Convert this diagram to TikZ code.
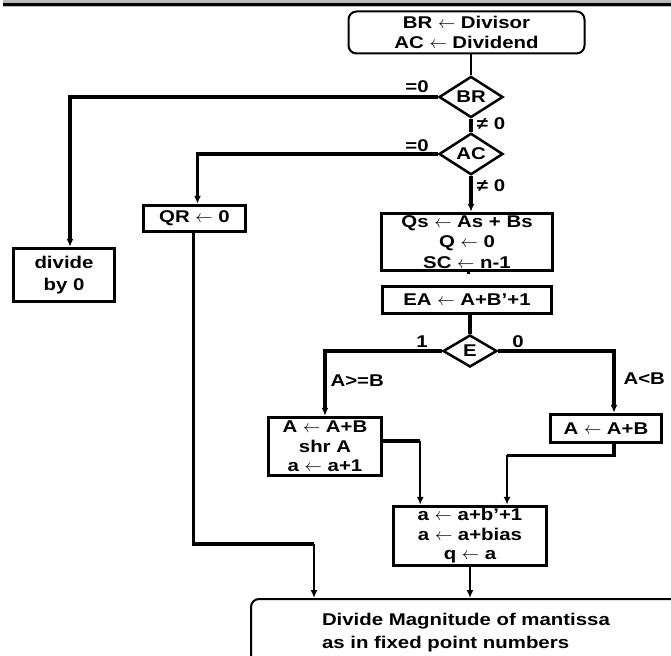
\documentclass[tikz,border=0pt]{standalone}
\usepackage{fontspec}
\setmainfont{Liberation Sans}[FakeStretch=1.2]
\usetikzlibrary{shapes.geometric,arrows.meta}
\newcommand{\getsto}{\ensuremath{\leftarrow}}
\tikzset{
  every node/.style={font=\bfseries\fontsize{17}{20.5}\selectfont},
  opbox/.style={draw,line width=3.5pt,rectangle,inner sep=0pt,align=center},
  tightbox/.style={opbox,font=\bfseries\fontsize{17}{19.5}\selectfont},
  testbox/.style={draw,line width=2.5pt,diamond,inner sep=0pt},
  termbox/.style={draw,line width=2pt,rounded corners=8pt,inner sep=0pt},
  flow/.style={line width=3.2pt},
  flowarr/.style={flow,-{Latex[length=8pt,width=7pt]}},
  drop/.style={line width=2pt,-{Latex[length=8pt,width=7pt]}}
}
\begin{document}
\begin{tikzpicture}[x=1pt,y=-1pt]
  \useasboundingbox (0,0) rectangle (671,655);
  \fill[gray!55] (3,0) rectangle (671,7.5); \fill (3,3.5) rectangle (671,6.2);
  \node[termbox,minimum width=236,minimum height=42,align=center] (top) at (466.5,32.5) {BR \getsto{} Divisor\\AC \getsto{} Dividend};
  \node[testbox,minimum width=64,minimum height=39] (br) at (471,97) {BR};
  \node[testbox,minimum width=64,minimum height=39] (ac) at (471,154) {AC};
  \node[opbox,minimum width=101,minimum height=53,font=\bfseries\fontsize{17}{22}\selectfont] (divide) at (64,275) {divide\\by 0};
  \node[opbox,minimum width=102,minimum height=26] (qr) at (194.5,218.5) {QR \getsto{} 0};
  \node[opbox,minimum width=171,minimum height=57] (qs) at (467,242) {Qs \getsto{} As + Bs\\Q \getsto{} 0\\SC \getsto{} n-1};
  \node[opbox,minimum width=169,minimum height=27] (ea) at (467,300) {EA \getsto{} A+B’+1};
  \node[testbox,minimum width=54,minimum height=32] (e) at (470,351) {E};
  \node[tightbox,minimum width=113,minimum height=58] (a1) at (325,446.5) {A \getsto{} A+B\\shr A\\a \getsto{} a+1};
  \node[opbox,minimum width=111,minimum height=28] (a2) at (606,428.5) {A \getsto{} A+B};
  \node[tightbox,minimum width=153,minimum height=59] (mid) at (470,536) {a \getsto{} a+b’+1\\a \getsto{} a+bias\\q \getsto{} a};
  \node[termbox,anchor=north west,minimum width=450,minimum height=68,text width=308,align=left,
    font=\bfseries\fontsize{17}{23}\selectfont] (final) at (250,598) {Divide Magnitude of mantissa\\as in fixed point numbers};
  \node (eqbr) at (417,87) {=0}; \node (nebr) at (491,124) {≠ 0};
  \node (eqac) at (417,146) {=0}; \node (neac) at (491,186) {≠ 0};
  \node (one) at (422,342) {1}; \node (zero) at (518,342) {0};
  \node[anchor=west] (ge) at (327,381) {A>=B}; \node[anchor=west] (lt) at (620,379) {A<B};
  \coordinate (kink) at (314,544);
  \draw[flow,line width=2.5pt] (br.north) -- (br.north |- top.south);
  \draw[flowarr] (br.west) -| ([xshift=6pt]divide.north);
  \draw[flow] (br.south) -- (ac.north);
  \draw[flowarr] (ac.west) -| ([xshift=3pt]qr.north);
  \draw[flowarr] (ac.south) -- (ac.south |- qs.north);
  \draw[flow] (qs.south) -- (qs.south -| e) ; \draw[flow] (ea.south -| e) -- (e.north);
  \draw[flowarr] (e.west) -| (a1.north);
  \draw[flowarr] (e.east) -| ([xshift=8pt]a2.north);
  \draw[flow] ([yshift=5.5pt]a1.east) -- ++(37,0) coordinate (a1out);
  \draw[drop] (a1out) -- (a1out |- mid.north);
  \draw[flow] ([xshift=8pt]a2.south) -- ++(0,11) -- ++(-107,0) coordinate (a2out);
  \draw[drop] (a2out) -- (a2out |- mid.north);
  \draw[drop] (mid.south) -- (mid.south |- final.north);
  \draw[flow] ([xshift=-1pt]qr.south) |- (kink);
  \draw[drop] (kink) -- (kink |- final.north);
\end{tikzpicture}
\end{document}
